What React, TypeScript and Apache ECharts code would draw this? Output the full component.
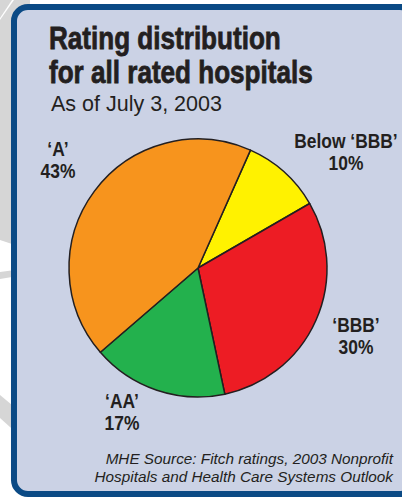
import React, { useEffect, useRef } from "react";
import * as echarts from "echarts";

const categories = ["Below ‘BBB’", "‘BBB’", "‘AA’", "‘A’"];
const shares = [10, 30, 17, 43];
const sliceColors = ["#fff200", "#ed1c24", "#23b14d", "#f7941d"];
const titleLines = ["Rating distribution", "for all rated hospitals"];
const subtitle = "As of July 3, 2003";
const sourceLines = [
  "MHE Source: Fitch ratings, 2003 Nonprofit",
  "Hospitals and Health Care Systems Outlook",
];
// label anchor positions (centre of two-line block)
const labelPos = [
  [346, 152],
  [356, 336],
  [122, 412],
  [58, 160],
];

export default function App() {
  const ref = useRef<HTMLDivElement>(null);
  useEffect(() => {
    const chart = echarts.init(ref.current!, null, { renderer: "svg" });
    const sans = "'Liberation Sans', Arial, sans-serif";
    chart.setOption({
      animation: false,
      backgroundColor: "#ffffff",
      graphic: [
        { type: "polygon", z: -20, shape: { points: [[0, 20], [14, 0], [30, 0], [30, 250], [0, 240]] }, style: { fill: "#d6d6d6" } },
        { type: "polygon", z: -20, shape: { points: [[0, 0], [12, 0], [0, 18]] }, style: { fill: "#d6d6d6" } },
        { type: "polygon", z: -20, shape: { points: [[0, 272], [30, 268], [30, 274], [0, 279]] }, style: { fill: "#d6d6d6" } },
        { type: "polygon", z: -20, shape: { points: [[0, 395], [30, 420], [30, 445], [0, 418]] }, style: { fill: "#d6d6d6" } },
        {
          type: "rect",
          z: -10,
          shape: { x: 14, y: 7, width: 400, height: 487, r: 14 },
          style: { fill: "#cbd2e5", stroke: "#0b4a85", lineWidth: 6 },
        },
        ...titleLines.map((t, i) => ({
          type: "text",
          z: 10,
          x: 49,
          y: 38 + i * 34,
          scaleX: 0.815,
          style: {
            text: t,
            fontFamily: sans,
            fontWeight: "bold",
            fontSize: 32,
            fill: "#231f20",
            stroke: "#231f20",
            lineWidth: 0.8,
            verticalAlign: "middle",
          },
        })),
        {
          type: "text",
          z: 10,
          x: 51,
          y: 104,
          style: {
            text: subtitle,
            fontFamily: sans,
            fontSize: 21.5,
            fill: "#231f20",
            verticalAlign: "middle",
          },
        },
        ...sourceLines.map((t, i) => ({
          type: "text",
          z: 10,
          x: 393,
          y: 458 + i * 18,
          style: {
            text: t,
            fontFamily: sans,
            fontStyle: "italic",
            fontSize: 15.3,
            fill: "#231f20",
            align: "right",
            verticalAlign: "middle",
          },
        })),
        ...categories.map((c, i) => ({
          type: "text",
          z: 10,
          x: labelPos[i][0],
          y: labelPos[i][1],
          scaleX: 0.87,
          style: {
            text: `${c}\n${shares[i]}%`,
            fontFamily: sans,
            fontWeight: "bold",
            fontSize: 20,
            lineHeight: 22,
            fill: "#231f20",
            align: "center",
            verticalAlign: "middle",
          },
        })),
      ],
      series: [
        {
          type: "pie",
          z: 5,
          center: [198, 268],
          radius: 129,
          startAngle: 66,
          clockwise: true,
          data: categories.map((c, i) => ({
            name: c,
            value: shares[i],
            itemStyle: { color: sliceColors[i] },
          })),
          itemStyle: { borderColor: "#231f20", borderWidth: 1.5 },
          label: { show: false },
          labelLine: { show: false },
          emphasis: { disabled: true },
        },
      ],
    });
    return () => chart.dispose();
  }, []);
  return (
    <div
      ref={ref}
      style={{ position: "absolute", left: 0, top: 0, width: 402, height: 500 }}
    />
  );
}
